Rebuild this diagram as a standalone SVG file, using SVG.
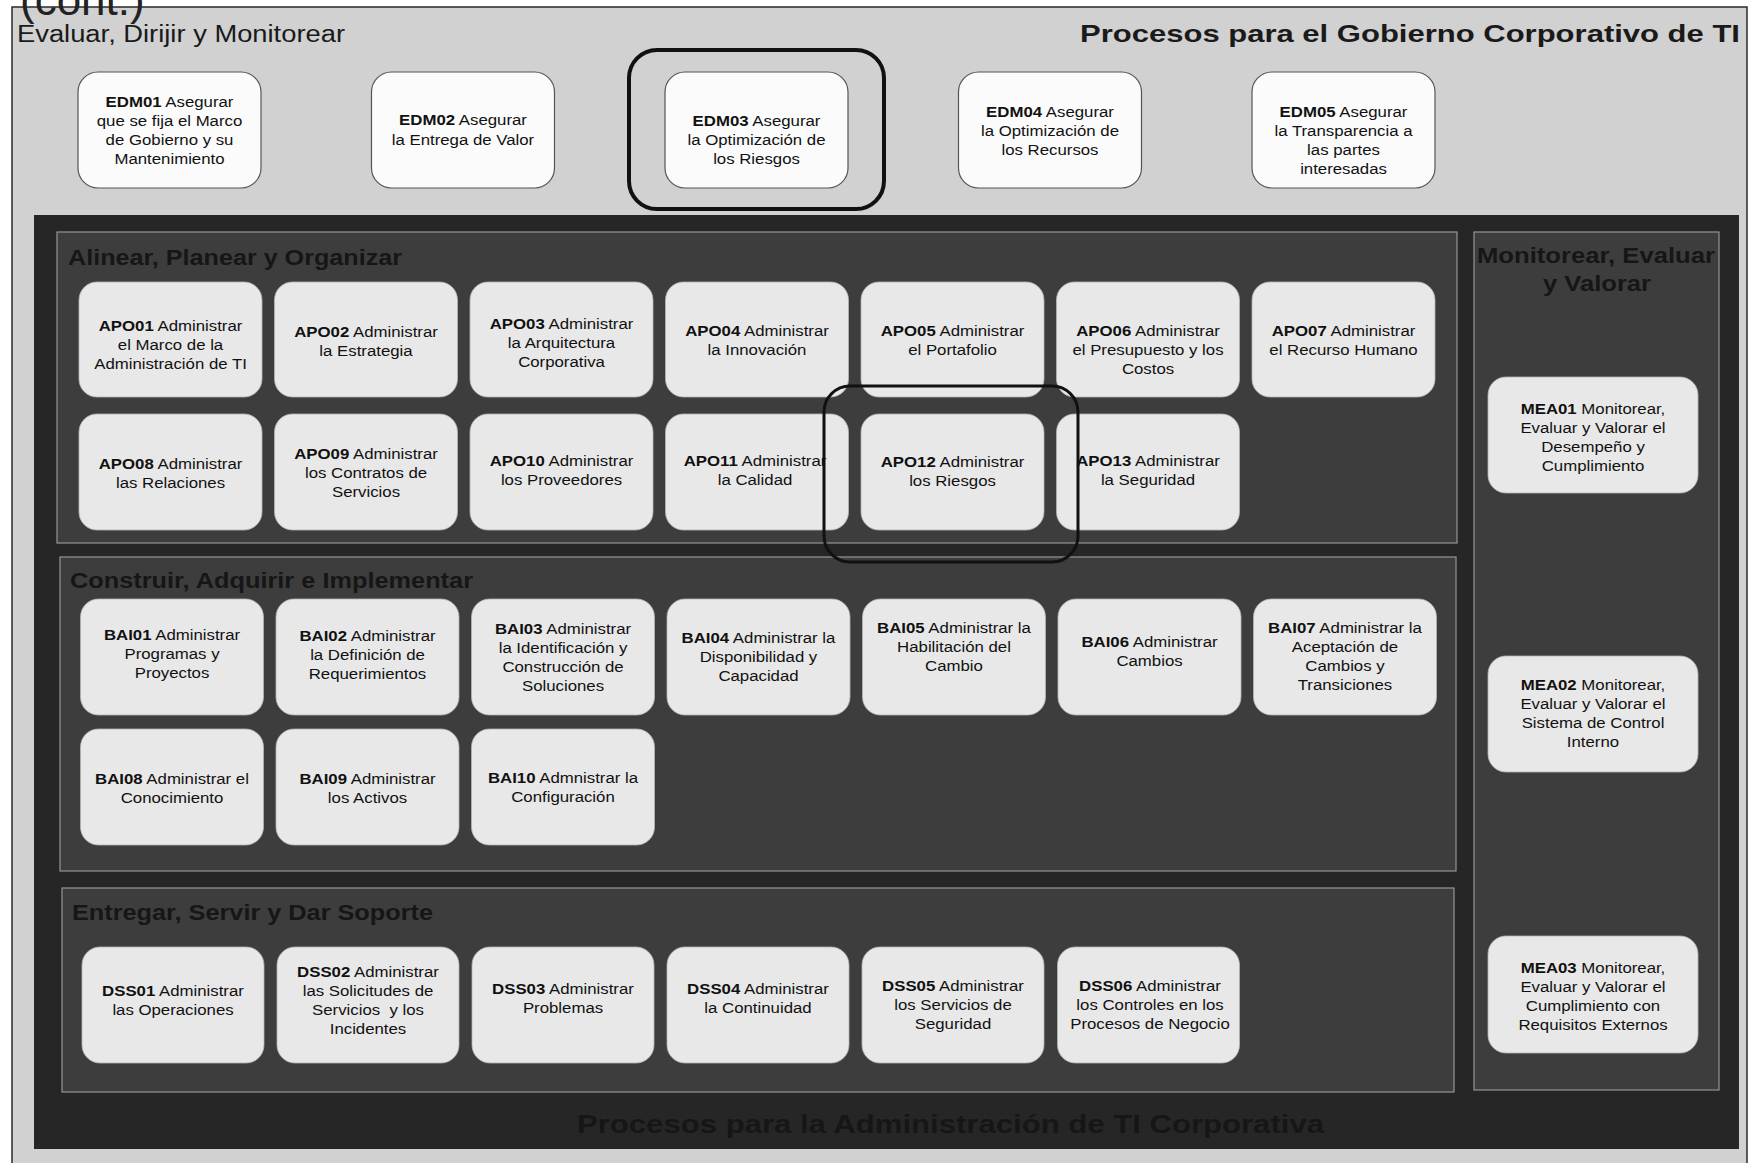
<svg xmlns="http://www.w3.org/2000/svg" width="1750" height="1163" viewBox="0 0 1750 1163">
  <style>
    .t { font-family: "Liberation Sans", Arial, sans-serif; font-size: 15px; text-anchor: middle; fill: #111; }
    .b { font-weight: bold; }
    .edm { fill: #fbfbfb; stroke: #555; stroke-width: 1.2; }
    .box { fill: #e8e8e8; stroke: #b5b5b5; stroke-width: 0.8; }
    .sect { fill: #3d3d3d; stroke: #959595; stroke-width: 1.2; }
    .stitle { font-family: "Liberation Sans", Arial, sans-serif; font-size: 22px; font-weight: bold; fill: #161616; }
    .hl { fill: none; stroke: #111; }
  </style>

  <!-- page background and outer frame -->
  <rect x="0" y="0" width="1750" height="1163" fill="#ffffff"/>
  <rect x="12" y="7" width="1735" height="1170" fill="#d1d1d1" stroke="#2a2a2a" stroke-width="1.5"/>
  <text x="20" y="15" font-family="'Liberation Sans', Arial, sans-serif" font-size="44" fill="#222">(cont.)</text>

  <!-- governance header -->
  <text x="17" y="42" font-family="'Liberation Sans', Arial, sans-serif" font-size="23" fill="#1a1a1a" textLength="328" lengthAdjust="spacingAndGlyphs">Evaluar, Dirijir y Monitorear</text>
  <text x="1080" y="42" font-family="'Liberation Sans', Arial, sans-serif" font-size="24" font-weight="bold" fill="#1a1a1a" textLength="660" lengthAdjust="spacingAndGlyphs">Procesos para el Gobierno Corporativo de TI</text>

  <!-- EDM domain -->
  <g id="EDM01"><rect class="edm" x="78" y="72" width="183" height="116" rx="20"/>
    <text class="t" transform="translate(169.5 0) scale(1.12 1)"><tspan x="0" y="107"><tspan class="b">EDM01</tspan> Asegurar</tspan><tspan x="0" y="126">que se fija el Marco</tspan><tspan x="0" y="145">de Gobierno y su</tspan><tspan x="0" y="164">Mantenimiento</tspan></text></g>
  <g id="EDM02"><rect class="edm" x="371.5" y="72" width="183" height="116" rx="20"/>
    <text class="t" transform="translate(463 0) scale(1.12 1)"><tspan x="0" y="125"><tspan class="b">EDM02</tspan> Asegurar</tspan><tspan x="0" y="145">la Entrega de Valor</tspan></text></g>
  <g id="EDM03"><rect class="edm" x="665" y="72" width="183" height="116" rx="20"/>
    <text class="t" transform="translate(756.5 0) scale(1.12 1)"><tspan x="0" y="126.5"><tspan class="b">EDM03</tspan> Asegurar</tspan><tspan x="0" y="145.5">la Optimización de</tspan><tspan x="0" y="164.5">los Riesgos</tspan></text></g>
  <g id="EDM04"><rect class="edm" x="958.5" y="72" width="183" height="116" rx="20"/>
    <text class="t" transform="translate(1050 0) scale(1.12 1)"><tspan x="0" y="117"><tspan class="b">EDM04</tspan> Asegurar</tspan><tspan x="0" y="136">la Optimización de</tspan><tspan x="0" y="155">los Recursos</tspan></text></g>
  <g id="EDM05"><rect class="edm" x="1252" y="72" width="183" height="116" rx="20"/>
    <text class="t" transform="translate(1343.5 0) scale(1.12 1)"><tspan x="0" y="117.5"><tspan class="b">EDM05</tspan> Asegurar</tspan><tspan x="0" y="136.5">la Transparencia a</tspan><tspan x="0" y="155.5">las partes</tspan><tspan x="0" y="174.5">interesadas</tspan></text></g>

  <!-- management area -->
  <rect x="34" y="215" width="1705" height="934" fill="#262626"/>
  <text x="577" y="1133" font-family="'Liberation Sans', Arial, sans-serif" font-size="26" font-weight="bold" fill="#161616" textLength="747" lengthAdjust="spacingAndGlyphs">Procesos para la Administración de TI Corporativa</text>

  <!-- domain panels -->
  <rect class="sect" x="57" y="232" width="1400" height="311"/>
  <text class="stitle" x="68" y="265" textLength="334" lengthAdjust="spacingAndGlyphs">Alinear, Planear y Organizar</text>
  <rect class="sect" x="60" y="557" width="1396" height="314"/>
  <text class="stitle" x="70" y="588" textLength="403" lengthAdjust="spacingAndGlyphs">Construir, Adquirir e Implementar</text>
  <rect class="sect" x="62" y="888" width="1392" height="204"/>
  <text class="stitle" x="72" y="920" textLength="361" lengthAdjust="spacingAndGlyphs">Entregar, Servir y Dar Soporte</text>
  <rect class="sect" x="1474" y="232" width="245" height="858"/>
  <text class="stitle" x="1477" y="263" textLength="238" lengthAdjust="spacingAndGlyphs">Monitorear, Evaluar</text>
  <text class="stitle" x="1543" y="291" textLength="108" lengthAdjust="spacingAndGlyphs">y Valorar</text>

  <!-- APO domain -->
  <g id="APO01"><rect class="box" x="79" y="282" width="183" height="115" rx="18"/>
    <text class="t" transform="translate(170.5 0) scale(1.12 1)"><tspan x="0" y="331"><tspan class="b">APO01</tspan> Administrar</tspan><tspan x="0" y="350">el Marco de la</tspan><tspan x="0" y="369">Administración de TI</tspan></text></g>
  <g id="APO02"><rect class="box" x="274.5" y="282" width="183" height="115" rx="18"/>
    <text class="t" transform="translate(366 0) scale(1.12 1)"><tspan x="0" y="337"><tspan class="b">APO02</tspan> Administrar</tspan><tspan x="0" y="356">la Estrategia</tspan></text></g>
  <g id="APO03"><rect class="box" x="470" y="282" width="183" height="115" rx="18"/>
    <text class="t" transform="translate(561.5 0) scale(1.12 1)"><tspan x="0" y="329"><tspan class="b">APO03</tspan> Administrar</tspan><tspan x="0" y="348">la Arquitectura</tspan><tspan x="0" y="367">Corporativa</tspan></text></g>
  <g id="APO04"><rect class="box" x="665.5" y="282" width="183" height="115" rx="18"/>
    <text class="t" transform="translate(757 0) scale(1.12 1)"><tspan x="0" y="336"><tspan class="b">APO04</tspan> Administrar</tspan><tspan x="0" y="355">la Innovación</tspan></text></g>
  <g id="APO05"><rect class="box" x="861" y="282" width="183" height="115" rx="18"/>
    <text class="t" transform="translate(952.5 0) scale(1.12 1)"><tspan x="0" y="336"><tspan class="b">APO05</tspan> Administrar</tspan><tspan x="0" y="355">el Portafolio</tspan></text></g>
  <g id="APO06"><rect class="box" x="1056.5" y="282" width="183" height="115" rx="18"/>
    <text class="t" transform="translate(1148 0) scale(1.12 1)"><tspan x="0" y="336"><tspan class="b">APO06</tspan> Administrar</tspan><tspan x="0" y="355">el Presupuesto y los</tspan><tspan x="0" y="374">Costos</tspan></text></g>
  <g id="APO07"><rect class="box" x="1252" y="282" width="183" height="115" rx="18"/>
    <text class="t" transform="translate(1343.5 0) scale(1.12 1)"><tspan x="0" y="336"><tspan class="b">APO07</tspan> Administrar</tspan><tspan x="0" y="355">el Recurso Humano</tspan></text></g>
  <g id="APO08"><rect class="box" x="79" y="414" width="183" height="116" rx="18"/>
    <text class="t" transform="translate(170.5 0) scale(1.12 1)"><tspan x="0" y="469"><tspan class="b">APO08</tspan> Administrar</tspan><tspan x="0" y="488">las Relaciones</tspan></text></g>
  <g id="APO09"><rect class="box" x="274.5" y="414" width="183" height="116" rx="18"/>
    <text class="t" transform="translate(366 0) scale(1.12 1)"><tspan x="0" y="459"><tspan class="b">APO09</tspan> Administrar</tspan><tspan x="0" y="478">los Contratos de</tspan><tspan x="0" y="497">Servicios</tspan></text></g>
  <g id="APO10"><rect class="box" x="470" y="414" width="183" height="116" rx="18"/>
    <text class="t" transform="translate(561.5 0) scale(1.12 1)"><tspan x="0" y="466"><tspan class="b">APO10</tspan> Administrar</tspan><tspan x="0" y="485">los Proveedores</tspan></text></g>
  <g id="APO11"><rect class="box" x="665.5" y="414" width="183" height="116" rx="18"/>
    <text class="t" transform="translate(755 0) scale(1.12 1)"><tspan x="0" y="466"><tspan class="b">APO11</tspan> Administrar</tspan><tspan x="0" y="485">la Calidad</tspan></text></g>
  <g id="APO12"><rect class="box" x="861" y="414" width="183" height="116" rx="18"/>
    <text class="t" transform="translate(952.5 0) scale(1.12 1)"><tspan x="0" y="467"><tspan class="b">APO12</tspan> Administrar</tspan><tspan x="0" y="486">los Riesgos</tspan></text></g>
  <g id="APO13"><rect class="box" x="1056.5" y="414" width="183" height="116" rx="18"/>
    <text class="t" transform="translate(1148 0) scale(1.12 1)"><tspan x="0" y="466"><tspan class="b">APO13</tspan> Administrar</tspan><tspan x="0" y="485">la Seguridad</tspan></text></g>

  <!-- BAI domain -->
  <g id="BAI01"><rect class="box" x="80.5" y="599" width="183" height="116" rx="18"/>
    <text class="t" transform="translate(172 0) scale(1.12 1)"><tspan x="0" y="640"><tspan class="b">BAI01</tspan> Administrar</tspan><tspan x="0" y="659">Programas y</tspan><tspan x="0" y="678">Proyectos</tspan></text></g>
  <g id="BAI02"><rect class="box" x="276" y="599" width="183" height="116" rx="18"/>
    <text class="t" transform="translate(367.5 0) scale(1.12 1)"><tspan x="0" y="641.5"><tspan class="b">BAI02</tspan> Administrar</tspan><tspan x="0" y="660.5">la Definición de</tspan><tspan x="0" y="679.5">Requerimientos</tspan></text></g>
  <g id="BAI03"><rect class="box" x="471.5" y="599" width="183" height="116" rx="18"/>
    <text class="t" transform="translate(563 0) scale(1.12 1)"><tspan x="0" y="634"><tspan class="b">BAI03</tspan> Administrar</tspan><tspan x="0" y="653">la Identificación y</tspan><tspan x="0" y="672">Construcción de</tspan><tspan x="0" y="691">Soluciones</tspan></text></g>
  <g id="BAI04"><rect class="box" x="667" y="599" width="183" height="116" rx="18"/>
    <text class="t" transform="translate(758.5 0) scale(1.12 1)"><tspan x="0" y="643"><tspan class="b">BAI04</tspan> Administrar la</tspan><tspan x="0" y="662">Disponibilidad y</tspan><tspan x="0" y="681">Capacidad</tspan></text></g>
  <g id="BAI05"><rect class="box" x="862.5" y="599" width="183" height="116" rx="18"/>
    <text class="t" transform="translate(954 0) scale(1.12 1)"><tspan x="0" y="633"><tspan class="b">BAI05</tspan> Administrar la</tspan><tspan x="0" y="652">Habilitación del</tspan><tspan x="0" y="671">Cambio</tspan></text></g>
  <g id="BAI06"><rect class="box" x="1058" y="599" width="183" height="116" rx="18"/>
    <text class="t" transform="translate(1149.5 0) scale(1.12 1)"><tspan x="0" y="647.5"><tspan class="b">BAI06</tspan> Administrar</tspan><tspan x="0" y="666.5">Cambios</tspan></text></g>
  <g id="BAI07"><rect class="box" x="1253.5" y="599" width="183" height="116" rx="18"/>
    <text class="t" transform="translate(1345 0) scale(1.12 1)"><tspan x="0" y="633"><tspan class="b">BAI07</tspan> Administrar la</tspan><tspan x="0" y="652">Aceptación de</tspan><tspan x="0" y="671">Cambios y</tspan><tspan x="0" y="690">Transiciones</tspan></text></g>
  <g id="BAI08"><rect class="box" x="80.5" y="729" width="183" height="116" rx="18"/>
    <text class="t" transform="translate(172 0) scale(1.12 1)"><tspan x="0" y="784.5"><tspan class="b">BAI08</tspan> Administrar el</tspan><tspan x="0" y="803.5">Conocimiento</tspan></text></g>
  <g id="BAI09"><rect class="box" x="276" y="729" width="183" height="116" rx="18"/>
    <text class="t" transform="translate(367.5 0) scale(1.12 1)"><tspan x="0" y="784.5"><tspan class="b">BAI09</tspan> Administrar</tspan><tspan x="0" y="803.5">los Activos</tspan></text></g>
  <g id="BAI10"><rect class="box" x="471.5" y="729" width="183" height="116" rx="18"/>
    <text class="t" transform="translate(563 0) scale(1.12 1)"><tspan x="0" y="783.5"><tspan class="b">BAI10</tspan> Admnistrar la</tspan><tspan x="0" y="802.5">Configuración</tspan></text></g>

  <!-- DSS domain -->
  <g id="DSS01"><rect class="box" x="82" y="947" width="182" height="116" rx="18"/>
    <text class="t" transform="translate(173 0) scale(1.12 1)"><tspan x="0" y="996"><tspan class="b">DSS01</tspan> Administrar</tspan><tspan x="0" y="1015">las Operaciones</tspan></text></g>
  <g id="DSS02"><rect class="box" x="277" y="947" width="182" height="116" rx="18"/>
    <text class="t" transform="translate(368 0) scale(1.12 1)"><tspan x="0" y="977"><tspan class="b">DSS02</tspan> Administrar</tspan><tspan x="0" y="996">las Solicitudes de</tspan><tspan x="0" y="1015">Servicios&#160; y los</tspan><tspan x="0" y="1034">Incidentes</tspan></text></g>
  <g id="DSS03"><rect class="box" x="472" y="947" width="182" height="116" rx="18"/>
    <text class="t" transform="translate(563 0) scale(1.12 1)"><tspan x="0" y="994"><tspan class="b">DSS03</tspan> Administrar</tspan><tspan x="0" y="1013">Problemas</tspan></text></g>
  <g id="DSS04"><rect class="box" x="667" y="947" width="182" height="116" rx="18"/>
    <text class="t" transform="translate(758 0) scale(1.12 1)"><tspan x="0" y="994"><tspan class="b">DSS04</tspan> Administrar</tspan><tspan x="0" y="1013">la Continuidad</tspan></text></g>
  <g id="DSS05"><rect class="box" x="862" y="947" width="182" height="116" rx="18"/>
    <text class="t" transform="translate(953 0) scale(1.12 1)"><tspan x="0" y="991"><tspan class="b">DSS05</tspan> Administrar</tspan><tspan x="0" y="1010">los Servicios de</tspan><tspan x="0" y="1029">Seguridad</tspan></text></g>
  <g id="DSS06"><rect class="box" x="1057.5" y="947" width="182" height="116" rx="18"/>
    <text class="t" transform="translate(1150 0) scale(1.12 1)"><tspan x="0" y="991"><tspan class="b">DSS06</tspan> Administrar</tspan><tspan x="0" y="1010">los Controles en los</tspan><tspan x="0" y="1029">Procesos de Negocio</tspan></text></g>

  <!-- MEA domain -->
  <g id="MEA01"><rect class="box" x="1488" y="377" width="210" height="116" rx="18"/>
    <text class="t" transform="translate(1593 0) scale(1.12 1)"><tspan x="0" y="414"><tspan class="b">MEA01</tspan> Monitorear,</tspan><tspan x="0" y="433">Evaluar y Valorar el</tspan><tspan x="0" y="452">Desempeño y</tspan><tspan x="0" y="471">Cumplimiento</tspan></text></g>
  <g id="MEA02"><rect class="box" x="1488" y="656" width="210" height="116" rx="18"/>
    <text class="t" transform="translate(1593 0) scale(1.12 1)"><tspan x="0" y="690"><tspan class="b">MEA02</tspan> Monitorear,</tspan><tspan x="0" y="709">Evaluar y Valorar el</tspan><tspan x="0" y="728">Sistema de Control</tspan><tspan x="0" y="747">Interno</tspan></text></g>
  <g id="MEA03"><rect class="box" x="1488" y="936" width="210" height="117" rx="18"/>
    <text class="t" transform="translate(1593 0) scale(1.12 1)"><tspan x="0" y="973"><tspan class="b">MEA03</tspan> Monitorear,</tspan><tspan x="0" y="992">Evaluar y Valorar el</tspan><tspan x="0" y="1011">Cumplimiento con</tspan><tspan x="0" y="1030">Requisitos Externos</tspan></text></g>

  <!-- highlight frames around the risk processes -->
  <g id="highlights">
    <rect class="hl" x="629" y="50" width="255" height="159" rx="28" stroke-width="4"/>
    <rect class="hl" x="824" y="386" width="254" height="176" rx="26" stroke-width="3"/>
  </g>
</svg>
